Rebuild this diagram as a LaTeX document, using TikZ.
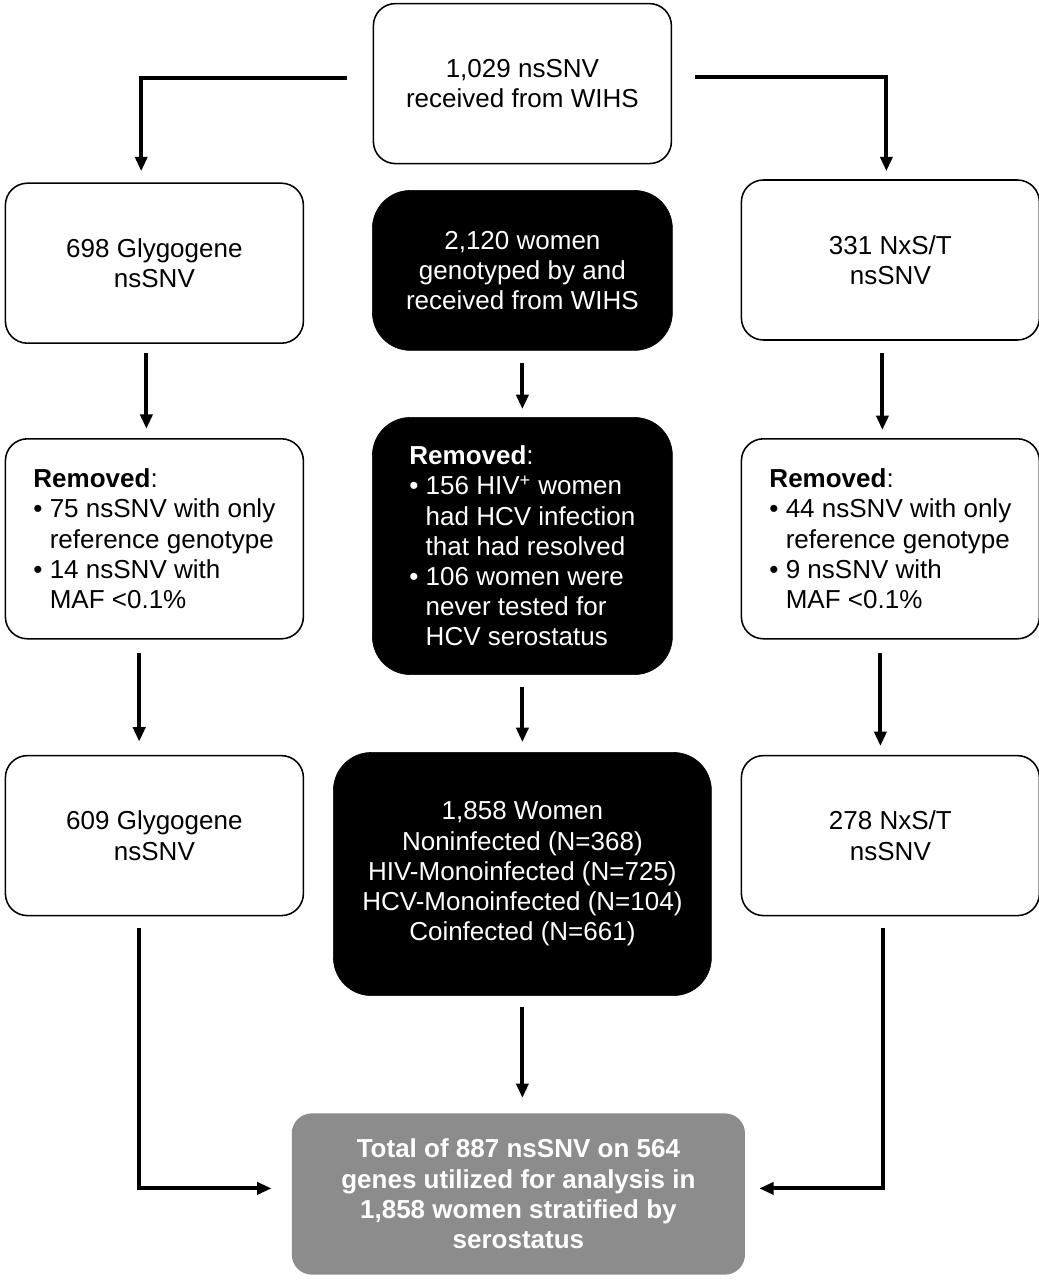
\documentclass[tikz,border=0pt]{standalone}
\usepackage{fontspec}
\setmainfont{Liberation Sans}
\usetikzlibrary{arrows.meta}
\definecolor{totalgray}{RGB}{140,140,140}
\newcommand{\bpt}{\textbullet\ }
\newcommand{\bind}{\hphantom{\textbullet\ }}

\begin{document}
\begin{tikzpicture}[node distance=9.2cm]

\tikzstyle{WBOX} = [rectangle, rounded corners=0.55cm, minimum width=7.45cm, minimum height=4cm, align=center, draw=black, line width=1.1pt, fill=white, font=\fontsize{18.5}{21.5}\selectfont]
\tikzstyle{BBOX} = [rectangle, rounded corners=0.95cm, minimum width=7.5cm, minimum height=4cm, align=center, draw=black, fill=black, text=white, font=\fontsize{18.5}{21.5}\selectfont]
\tikzstyle{GBOX} = [rectangle, rounded corners=0.5cm, minimum width=11.33cm, minimum height=4.03cm, align=center, fill=totalgray, text=white, font=\fontsize{18.5}{21.5}\selectfont\bfseries]
\tikzstyle{arrow} = [line width=2.8pt,->,>={Triangle[length=0.36cm,width=0.3cm]}]

\useasboundingbox (-13.06,2.09) rectangle (12.915,-29.91);

% top and first row
\node (TOP) [WBOX] {1,029 nsSNV\\received from WIHS};
\node (women) [BBOX, below of=TOP, yshift=4.53cm] {2,120 women\\genotyped by and\\received from WIHS};
\node (GLYA) [WBOX, left of=women, yshift=0.18cm] {698 Glygogene\\nsSNV};
\node (NXSA) [WBOX, right of=women, yshift=0.26cm] {331 NxS/T\\nsSNV};

% removed
\node (REMW) [BBOX, align=left, minimum height=6.43cm, below of=women, yshift=2.31cm] {{\bfseries Removed}:\\
\bpt 156 HIV\textsuperscript{+} women\\
\bind had HCV infection\\
\bind that had resolved\\
\bpt 106 women were\\
\bind never tested for\\
\bind HCV serostatus};
\node (REMG) [WBOX, align=left, minimum height=5cm, left of=REMW, yshift=0.18cm] {{\bfseries Removed}:\\
\bpt 75 nsSNV with only\\
\bind reference genotype\\
\bpt 14 nsSNV with\\
\bind MAF <0.1\%};
\node (REMN) [WBOX, align=left, minimum height=5cm, right of=REMW, yshift=0.18cm] {{\bfseries Removed}:\\
\bpt 44 nsSNV with only\\
\bind reference genotype\\
\bpt 9 nsSNV with\\
\bind MAF <0.1\%};

% kept
\node (SERO) [BBOX, minimum width=9.45cm, minimum height=6.08cm, below of=REMW, yshift=1cm] {1,858 Women\\Noninfected (N=368)\\HIV-Monoinfected (N=725)\\HCV-Monoinfected (N=104)\\Coinfected (N=661)};
\node (GLYB) [WBOX, below of=REMG, yshift=1.78cm] {609 Glygogene\\nsSNV};
\node (NXSB) [WBOX, below of=REMN, yshift=1.78cm] {278 NxS/T\\nsSNV};

\node (TOTAL) [GBOX, below of=SERO, yshift=1.2cm, xshift=-0.1cm] {Total of 887 nsSNV on 564\\genes utilized for analysis in\\1,858 women stratified by\\serostatus};

\draw[arrow, shorten <=0.65cm, shorten >=0.28cm] ([yshift=0.14cm]TOP.west) -| ([xshift=-0.33cm]GLYA.north);
\draw[arrow, shorten <=0.58cm, shorten >=0.2cm] ([yshift=0.16cm]TOP.east) -| ([xshift=-0.1cm]NXSA.north);

\draw[arrow, shorten <=0.23cm, shorten >=0.23cm] ([xshift=-0.2cm]GLYA.south) -- ([xshift=-0.2cm]REMG.north);
\draw[arrow, shorten <=0.3cm, shorten >=0.2cm] (women) -- (REMW);
\draw[arrow, shorten <=0.3cm, shorten >=0.2cm] ([xshift=-0.2cm]NXSA.south) -- ([xshift=-0.2cm]REMN.north);

\draw[arrow, shorten <=0.33cm, shorten >=0.33cm] ([xshift=-0.38cm]REMG.south) -- ([xshift=-0.38cm]GLYB.north);
\draw[arrow, shorten <=0.3cm, shorten >=0.25cm] (REMW) -- (SERO);
\draw[arrow, shorten <=0.33cm, shorten >=0.22cm] ([xshift=-0.25cm]REMN.south) -- ([xshift=-0.25cm]NXSB.north);

\draw[arrow, shorten <=0.3cm, shorten >=0.5cm] ([xshift=-0.38cm]GLYB.south) |- ([yshift=0.14cm]TOTAL.west);
\draw[arrow, shorten <=0.28cm, shorten >=0.38cm] (SERO) -- (SERO |- TOTAL.north);
\draw[arrow, shorten <=0.3cm, shorten >=0.35cm] ([xshift=-0.18cm]NXSB.south) |- ([yshift=0.14cm]TOTAL.east);

\end{tikzpicture}
\end{document}
